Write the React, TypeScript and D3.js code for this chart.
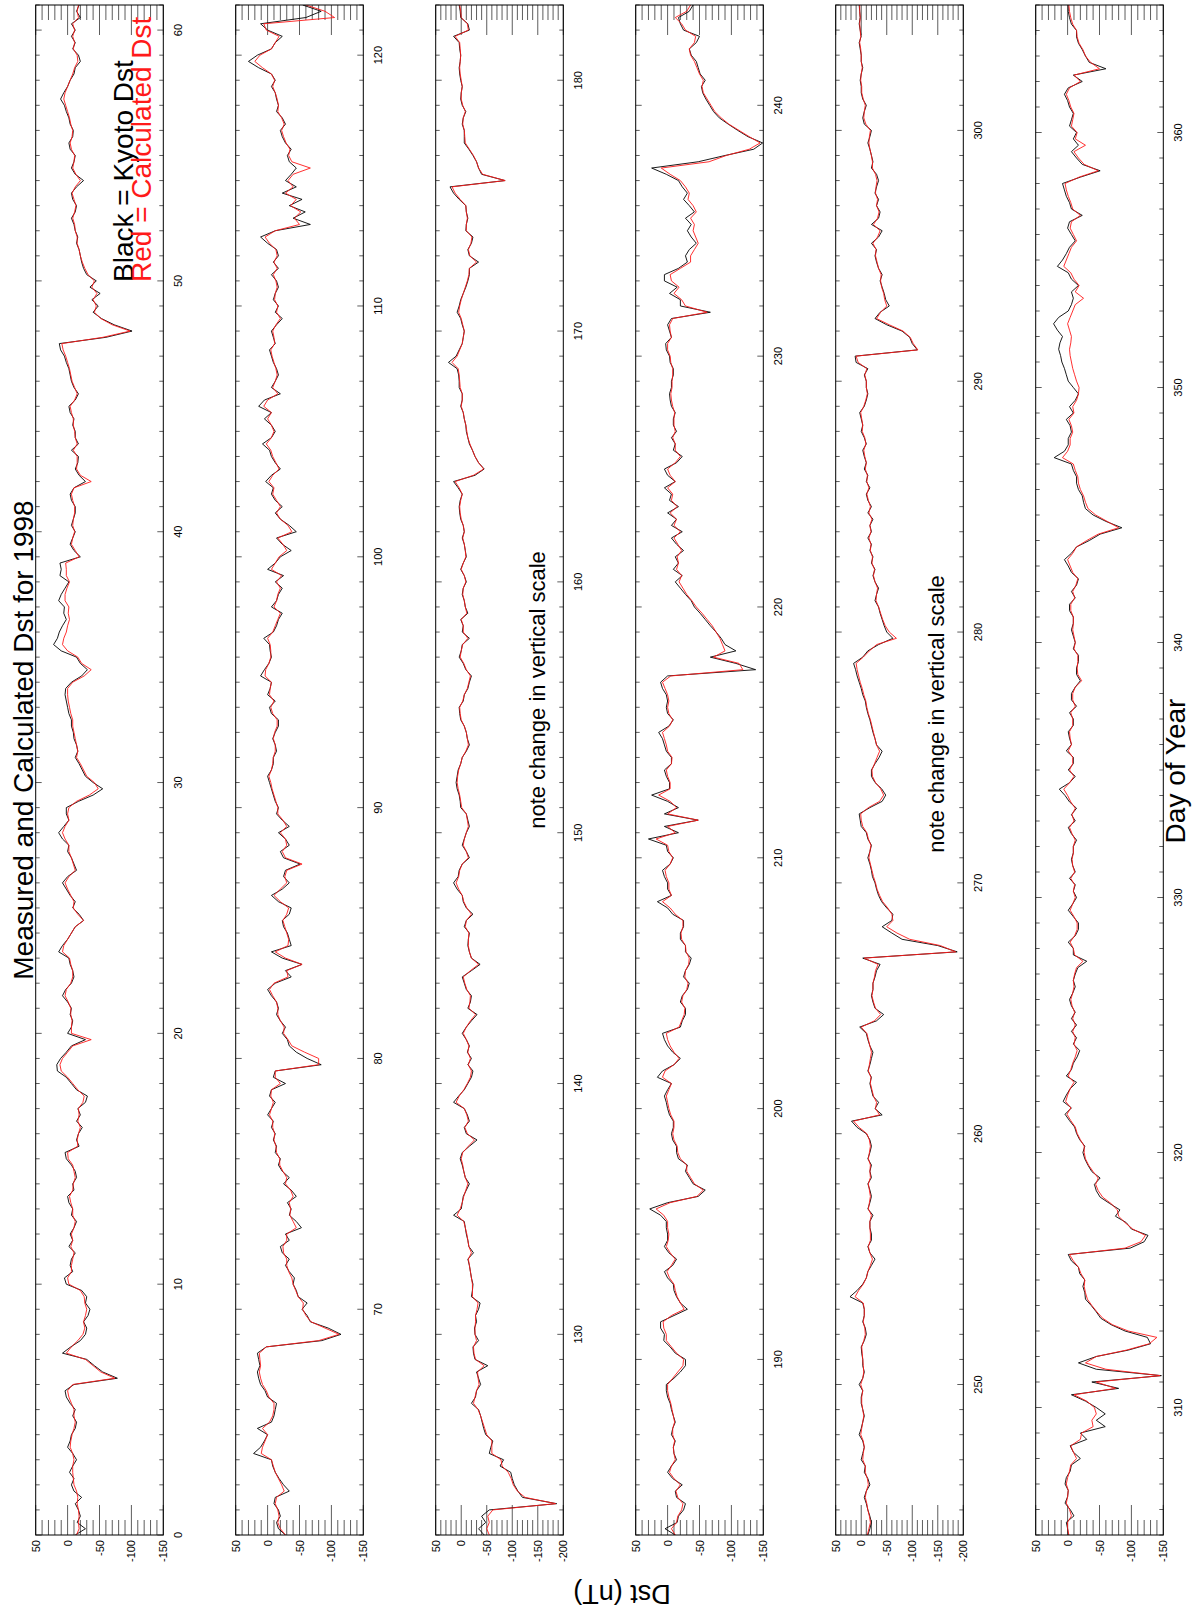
import React from 'react';
import * as d3 from 'd3';

// page is portrait, the figure itself is drawn landscape and turned -90deg
const PAGE_W = 1198;
const PAGE_H = 1617;

const FONT = '"Liberation Sans", Arial, Helvetica, sans-serif';

// hourly Dst every 6 hours (0.25 day)
const STEP = 0.25;

const panelStart = [0, 61, 122, 183, 244, 305];
const panelEnd = [61, 122, 183, 244, 305, 365];
const panelLow = [-150, -150, -200, -150, -200, -150];

const labels150 = [50, 0, -50, -100, -150];
const labels200 = [50, 0, -50, -100, -150, -200];

const kyoto1 = [
  -12,-28,-15,-20, -17,-12,-22,-10, -6,-10,-3,-8, -14,-8,0,-4, -6,-12,-14,-8,
  -12,-4,2,4, -10,-78,-55,-42, -30,8,-5,-20, -28,-30,-25,-32, -35,-28,-30,-22,
  2,5,-8,-4, -6,-12,-2,-8, -4,-10,-14,-6, -8,-2,0,-10, -8,-14,-12,-6,
  2,4,-18,-14, -17,-23,-14,-20, -16,-28,-31,-14, -6,2,16,17, 11,2,-6,-28,
  0,-6,-8,-4, -6,0,8,3, -6,-10,-8,-4, -2,14,8,0, -6,-12,-25,-18,
  -8,-12,-4,2, 8,0,-14,-10, -6,0,-2,8, 14,6,-2,2, 2,-17,-40,-55,
  -40,-28,-23,-18, -12,-16,-14,-10, -9,-6,-6,-2, 0,2,4,3, -6,-22,-31,-20,
  -14,10,22,16, 13,8,2,6, 5,14,10,4, -2,12,10,12, -20,-10,-4,-8,
  -12,-6,-9,-12, -12,-6,-4,-10, -28,-18,-12,-16, -17,-6,-17,-12, -12,-8,-10,-4,
  -2,-12,-17,-10, -6,-4,-2,2, 5,11,13,-60, -101,-73,-53,-40, -48,-38,-51,-35,
  -45,-30,-25,-22, -20,-18,-14,-16, -12,-10,-6,-12, -14,-8,-6,-14, -25,-12,-6,-10,
  -12,-4,-2,-8, -9,-4,-2,2, 5,11,6,0, -4,-10,-12,-20, -17,-8,-12,-6,
  -12,-6,-20,-14, -18,
];
const calc1 = [
  -14,-18,-17,-18, -17,-15,-16,-14, -10,-9,-8,-8, -10,-8,-4,-5, -7,-10,-12,-10,
  -10,-6,-2,0, -8,-74,-52,-40, -28,2,-6,-16, -24,-27,-25,-28, -30,-27,-26,-20,
  -2,0,-6,-6, -8,-10,-5,-8, -6,-10,-12,-8, -8,-5,-3,-8, -9,-12,-10,-8,
  -1,0,-16,-15, -17,-20,-16,-18, -17,-24,-26,-16, -8,0,10,12, 8,0,-8,-37,
  -6,-6,-7,-5, -5,-1,4,2, -5,-8,-8,-5, -3,8,6,0, -6,-12,-25,-16,
  -9,-10,-5,0, 4,-2,-12,-9, -6,-2,-2,4, 8,4,-2,0, -2,-14,-34,-48,
  -42,-30,-25,-20, -14,-16,-14,-12, -10,-8,-8,-5, -3,-1,0,0, -8,-26,-37,-22,
  -16,0,8,6, 2,0,-3,-1, -2,4,4,1, -3,2,2,3, -18,-12,-6,-8,
  -11,-8,-9,-11, -11,-8,-6,-10, -37,-20,-14,-15, -15,-9,-15,-12, -11,-9,-9,-6,
  -4,-11,-15,-11, -7,-5,-3,0, 3,7,9,-55, -98,-70,-52,-42, -45,-40,-46,-38,
  -42,-32,-27,-23, -20,-18,-15,-15, -12,-11,-8,-11, -13,-10,-7,-12, -20,-13,-8,-10,
  -11,-6,-4,-7, -8,-5,-3,0, 3,6,4,0, -4,-8,-11,-16, -15,-9,-11,-8,
  -11,-8,-17,-15, -17,
];

const kyoto2 = [
  -28,-17,-14,-20, -17,-10,-12,-34, -25,-18,-12,-8, -6,22,11,5, 0,16,-6,-10,
  -12,-14,0,4, 11,14,16,12, 14,16,2,-85, -115,-95,-67,-62, -54,-62,-48,-45,
  -40,-42,-34,-28, -34,-23,-20,-34, -28,-53,-45,-34, -37,-31,-45,-37, -25,-34,-23,-17,
  -20,-12,-14,-9, -12,-6,-9,0, -6,-12,-3,-6, -28,-9,-12,-84, -62,-45,-34,-31,
  -23,-28,-20,-14, -17,-14,-6,0, -12,-37,-28,-54, -23,-6,-37,-34, -31,-25,-23,-34,
  -37,-17,-6,-23, -34,-25,-28,-51, -25,-20,-34,-28, -17,-34,-23,-14, -17,-12,-9,-6,
  -3,0,-6,-9, -9,-14,-12,-8, -12,-17,-17,-6, -3,-12,0,-4, -6,11,5,-2,
  -6,-4,-3,6, -9,-14,-17,-23, -6,-14,-17,-23, -12,-25,0,-12, -20,-37,-23,-14,
  -45,-34,-20,-12, -23,-12,-6,-9, 3,-6,-20,-12, -6,-3,8,-6, -12,-6,5,-6,
  14,5,-20,-6, -12,-17,-14,-9, -6,-3,-12,-9, -6,-14,-23,-12, -17,-9,-12,-17,
  -14,-6,-17,-9, -17,-14,0,11, -12,-67,-40,-59, -34,-54,-23,-45, -28,-37,-45,-34,
  -31,-37,-28,-23, -20,-28,-23,-14, -17,-14,-12,-6, -12,-6,14,30, 16,-6,-12,-23,
  0,11,-60,-84, -55,
];
const calc2 = [
  -28,-20,-16,-18, -16,-12,-14,-26, -22,-17,-12,-9, -6,10,8,4, 0,8,-3,-8,
  -10,-10,-2,2, 8,11,13,11, 12,13,2,-80, -112,-90,-68,-60, -55,-56,-48,-44,
  -40,-38,-33,-30, -30,-25,-24,-30, -30,-45,-40,-35, -36,-34,-40,-36, -28,-30,-24,-19,
  -19,-14,-13,-10, -11,-8,-8,-3, -6,-9,-5,-6, -20,-12,-12,-80, -80,-58,-38,-32,
  -25,-26,-20,-16, -16,-14,-8,-3, -10,-32,-30,-54, -28,-12,-32,-33, -30,-27,-24,-30,
  -33,-20,-10,-20, -30,-27,-30,-54, -28,-23,-30,-28, -20,-30,-24,-16, -16,-13,-10,-7,
  -5,-2,-6,-8, -9,-12,-12,-9, -11,-15,-15,-8, -5,-10,-3,-4, -6,4,3,-2,
  -5,-5,-4,0, -8,-12,-16,-20, -10,-14,-16,-20, -14,-22,-6,-12, -18,-30,-24,-16,
  -38,-32,-20,-14, -20,-14,-8,-10, -2,-8,-18,-13, -8,-5,2,-6, -10,-6,0,-6,
  6,0,-16,-8, -12,-15,-13,-10, -7,-5,-11,-10, -8,-13,-20,-14, -16,-11,-12,-15,
  -13,-9,-15,-10, -15,-13,-3,4, -12,-50,-42,-52, -36,-45,-28,-40, -32,-40,-67,-38,
  -33,-35,-29,-25, -22,-26,-22,-16, -17,-15,-12,-8, -11,-6,8,20, 12,-6,-12,-18,
  2,6,-105,-90, -60,
];

const kyoto3 = [
  -45,-34,-48,-40, -55,-187,-120,-111, -104,-100,-97,-76, -83,-55,-58,-62, -48,-44,-41,-38,
  -34,-20,-28,-30, -38,-34,-30,-52, -27,-24,-23,-34, -27,-26,-30,-28, -34,-37,-20,-22,
  -23,-20,-18,-16, -13,-24,-15,-13, -10,-8,-6,15, 0,-2,-4,-10, -16,-8,-5,-2,
  2,-2,-16,-31, -10,-6,-16,-12, -6,15,5,-6, -13,-20,-23,-13, -20,-12,-16,-10,
  -2,-10,-20,-31, -13,-18,-20,-10, -6,-2,-20,-37, -20,-16,-13,-14, -16,-6,-10,-23,
  -10,-4,-2,8, 15,6,4,-2, -16,-10,-2,-6, -10,-16,-13,-10, 1,2,4,8,
  10,8,6,1, -2,-10,-16,-12, -10,-6,1,3, 4,-4,-6,-13, -16,-20,-9,-4,
  4,0,-2,-16, -2,-4,1,-13, -8,-6,-2,-4, -10,-6,1,-4, -10,-8,-6,-2,
  -6,-4,1,3, 4,2,-2,6, 15,-27,-45,-34, -27,-22,-16,-13, -10,-9,-6,-4,
  1,-2,-2,4, 4,5,8,25, 10,4,-2,-4, -6,-2,1,8, 4,1,-4,-9,
  -13,-16,-16,-34, -16,-13,-20,-23, -9,-10,-13,-10, -9,4,15,22, -86,-40,-34,-30,
  -23,-15,-6,-6, -6,-2,-4,-9, -2,1,0,-2, 1,3,4,2, 1,3,4,15,
  -16,-13,1,2, 4,
];
const calc3 = [
  -55,-50,-55,-52, -62,-185,-125,-110, -102,-98,-92,-80, -78,-60,-60,-60, -50,-46,-42,-38,
  -33,-24,-27,-30, -35,-33,-32,-45, -28,-25,-24,-30, -27,-27,-28,-28, -31,-33,-22,-22,
  -22,-20,-18,-16, -14,-20,-15,-13, -11,-8,-5,8, 2,-2,-5,-9, -13,-8,-5,-3,
  0,-3,-14,-26, -12,-7,-14,-11, -6,10,4,-5, -12,-18,-20,-14, -18,-13,-15,-10,
  -4,-10,-18,-28, -15,-17,-18,-11, -7,-4,-18,-34, -20,-16,-14,-14, -15,-8,-10,-20,
  -11,-5,-2,5, 10,5,3,-2, -14,-10,-4,-6, -10,-14,-12,-10, -1,1,3,6,
  8,7,5,1, -2,-9,-14,-12, -10,-6,0,2, 3,-3,-6,-12, -15,-18,-10,-5,
  2,0,-3,-13, -4,-4,0,-11, -8,-6,-3,-4, -9,-6,0,-4, -9,-8,-6,-3,
  -6,-4,0,2, 3,1,-2,4, 12,-24,-44,-34, -27,-22,-17,-13, -11,-9,-6,-4,
  0,-2,-2,2, 3,4,6,18, 8,3,-2,-4, -6,-3,0,5, 3,0,-4,-8,
  -12,-15,-16,-30, -17,-14,-19,-21, -10,-10,-12,-10, -9,2,12,18, -86,-42,-34,-30,
  -24,-16,-8,-7, -6,-3,-4,-8, -3,0,0,-2, 0,2,3,2, 1,2,3,12,
  -14,-12,0,1, 3,
];

const kyoto4 = [
  -12,4,-15,-17, -25,-28,-14,-12, -23,-8,0,-6, -14,-10,-9,-12, -6,-8,-12,-9,
  -6,-4,0,2, 2,-10,-20,-28, -28,-12,-4,6, 5,11,11,-10, -31,-20,-14,-10,
  -9,0,5,-8, -14,-2,5,0, 0,2,2,11, 28,0,-48,-59, -40,-34,-28,-31,
  -17,-14,-14,-8, -6,-9,-9,-3, 0,2,5,0, -6,16,8,-10, -20,-8,0,5,
  8,-20,-23,-28, -28,-20,-23,-31, -34,-25,-28,-34, -37,-28,-28,-20, -20,-25,-25,-8,
  0,16,-6,0, 0,5,8,-4, -9,0,2,30, -17,5,-48,5, -17,0,25,-3,
  -3,2,5,-6, -6,2,5,8, 14,-2,-9,0, 2,0,2,8, 11,0,-138,-107,
  -67,-107,-90,-84, -76,-67,-59,-51, -42,-37,-28,-20, -12,-23,-9,-17, -12,-25,-14,-6,
  -23,-6,-14,0, -17,-3,-6,5, -12,0,5,-14, -23,-9,-12,-6, -14,-9,-9,-12,
  -6,-4,-3,-6, -6,-9,-9,-4, -3,2,3,-6, -3,0,-6,-67, -20,-20,-3,-15,
  5,5,-17,-31, -28,-34,-45,-37, -31,-37,-28,-42, -34,-25,-31,-23, -17,2,25,-48,
  -90,-135,-149,-126, -110,-95,-81,-72, -66,-60,-55,-53, -59,-51,-48,-45, -37,-34,-45,-50,
  -25,-20,-17,-34, -40,
];
const calc4 = [
  -12,-6,-14,-16, -22,-24,-16,-13, -20,-10,-3,-6, -12,-10,-9,-11, -8,-8,-11,-9,
  -7,-5,-2,0, 0,-8,-16,-24, -25,-14,-6,2, 2,6,7,-6, -26,-20,-15,-12,
  -10,-3,1,-6, -12,-4,2,-1, -2,0,0,6, 18,-4,-46,-56, -42,-36,-30,-30,
  -20,-16,-15,-10, -8,-10,-10,-5, -2,0,2,-2, -6,8,4,-10, -18,-10,-4,0,
  2,-18,-22,-26, -27,-22,-24,-30, -32,-27,-28,-33, -34,-29,-28,-22, -21,-24,-24,-12,
  -4,8,-6,-2, -2,2,4,-4, -8,-2,0,18, -12,0,-48,0, -14,-4,14,-4,
  -4,0,2,-6, -7,0,2,5, 8,-3,-8,-2, 0,-2,0,4, 8,-5,-118,-112,
  -72,-90,-86,-82, -76,-70,-62,-54, -45,-38,-30,-24, -18,-22,-14,-17, -15,-22,-16,-10,
  -20,-10,-14,-4, -15,-6,-8,0, -12,-4,0,-12, -20,-12,-12,-8, -12,-10,-10,-11,
  -8,-6,-5,-7, -7,-8,-8,-5, -4,0,0,-6, -4,-3,-8,-62, -28,-22,-10,-18,
  -6,-4,-20,-36, -36,-42,-48,-44, -40,-42,-36,-45, -40,-32,-34,-28, -20,-4,10,-65,
  -92,-128,-145,-128, -112,-96,-84,-74, -68,-62,-56,-54, -56,-50,-46,-42, -36,-34,-42,-44,
  -28,-22,-12,-30, -36,
];

const kyoto5 = [
  -13,-17,-20,-17, -13,-10,-6,-10, -17,-13,-6,-8, 0,-3,-6,-3, 4,0,-3,-6,
  -3,0,0,-3, 4,-3,-6,-3, -3,-1,0,-6, -10,-8,-3,-6, -6,-3,22,8,
  -3,-10,-13,-20, -27,-17,-13,-20, -20,-17,-17,-23, -13,-17,-20,-17, -13,-20,-17,-20,
  -13,-17,-20,-17, -10,8,19,-41, -27,-34,-23,-20, -17,-20,-13,-17, -20,-23,-17,-13,
  -10,3,-30,-44, -27,-23,-20,-23, -23,-27,-30,-37, -3,-188,-150,-80, -60,-41,-60,-62,
  -50,-40,-34,-30, -27,-22,-20,-17, -13,-17,-20,-13, -10,0,2,4, -17,-41,-48,-40,
  -27,-20,-20,-27, -35,-41,-30,-27, -23,-20,-17,-13, -10,-8,-3,0, 4,8,11,15,
  -3,-13,-34,-62, -50,-45,-41,-37, -34,-27,-30,-34, -27,-23,-27,-20, -23,-17,-20,-13,
  -20,-17,-23,-13, -20,-13,-10,-17, -10,-13,-6,-10, -6,-3,-10,-6, 0,-3,0,3,
  -6,-10,-13,-10, -10,-6,-13,10, 12,-110,-100,-95, -80,-50,-27,-37, -55,-48,-45,-41,
  -37,-41,-34,-30, -27,-30,-20,-34, -41,-20,-34,-37, -30,-34,-27,-30, -34,-30,-20,-23,
  -20,-17,-13,-17, -20,-6,-3,-6, -10,-3,0,0, 2,0,-3,0, 0,2,4,0,
  2,4,2,3, 4,
];
const calc5 = [
  -12,-15,-18,-16, -13,-11,-8,-10, -14,-12,-8,-8, -3,-4,-6,-4, 1,-1,-3,-5,
  -3,-1,-1,-3, 1,-3,-5,-4, -3,-2,-1,-5, -8,-7,-4,-6, -6,-4,12,5,
  -4,-10,-13,-18, -22,-17,-14,-18, -18,-17,-17,-20, -14,-16,-18,-16, -14,-18,-17,-18,
  -14,-16,-18,-16, -11,4,15,-36, -28,-30,-24,-21, -18,-19,-14,-16, -18,-20,-17,-14,
  -11,0,-26,-38, -28,-24,-21,-23, -23,-26,-28,-33, -6,-185,-155,-95, -70,-50,-62,-60,
  -52,-42,-36,-31, -28,-24,-21,-18, -15,-17,-19,-14, -11,-3,0,1, -14,-36,-44,-38,
  -28,-22,-21,-26, -31,-36,-30,-27, -24,-21,-18,-14, -11,-9,-5,-2, 2,5,8,10,
  -4,-16,-30,-69, -55,-47,-42,-38, -34,-29,-30,-32, -27,-24,-26,-21, -22,-18,-19,-15,
  -19,-17,-21,-15, -18,-14,-11,-15, -11,-12,-8,-10, -7,-5,-9,-7, -2,-3,-1,1,
  -5,-9,-12,-10, -10,-7,-11,6, 10,-111,-102,-96, -82,-55,-30,-38, -50,-46,-44,-40,
  -38,-39,-34,-31, -28,-29,-23,-32, -37,-24,-32,-35, -30,-32,-28,-29, -31,-28,-22,-22,
  -20,-17,-15,-16, -18,-9,-5,-6, -8,-4,-1,-1, 1,0,-2,0, 0,1,3,1,
  2,3,2,3, 3,
];

const kyoto6 = [
  -1,0,2,-10, -4,4,0,-1, 4,2,-4,-6, -20,-9,-4,-30, -20,-59,-45,-59,
  -45,-28,-6,-80, -38,-147,-45,-17, -45,-95,-130,-125, -90,-68,-52,-45, -37,-28,-27,-24,
  -27,-19,-17,-6, -1,-98,-120,-126, -100,-92,-75,-82, -66,-51,-45,-42, -51,-38,-32,-27,
  -24,-27,-19,-14, -11,-3,4,-6, 7,2,-4,-14, 2,-6,-9,-15, -19,-9,-14,-6,
  -14,-6,-12,-6, -3,-8,-12,-9, -12,-16,-30,-9, -9,-1,-12,-17, -17,-9,-1,-8,
  -14,-9,-12,-3, -12,-8,-6,-9, -9,-14,-6,-1, -12,-6,-14,-3, 4,13,-3,-12,
  -1,-9,-9,2, -6,-3,-1,-9, -9,-3,-14,-6, -6,-12,-20,-14, -14,-17,-17,-9,
  -12,-9,-6,-9, -9,-3,-3,-12, -6,-14,-17,-6, -1,5,-6,-14, -34,-51,-85,-60,
  -40,-28,-25,-23, -17,-14,-14,-9, -6,21,5,-1, -1,-6,-4,2, -9,-3,-12,-17,
  -9,-1,2,5, 9,11,14,12, 8,16,22,14, -1,-6,-9,-6, -17,-6,-1,16,
  8,2,-3,-12, -6,0,-3,-23, -6,-3,2,5, 8,-20,-51,-23, -14,-6,-17,-9,
  -14,-3,-6,-9, -3,0,5,-1, -23,-9,-60,-34, -28,-23,-17,-14, -14,-6,-3,-1,
  -1,
];
const calc6 = [
  -2,0,0,-6, -3,2,0,-1, 2,0,-3,-5, -14,-9,-5,-20, -22,-40,-38,-45,
  -42,-30,-10,-75, -45,-145,-60,-28, -45,-92,-128,-140, -95,-70,-55,-46, -38,-31,-28,-26,
  -27,-21,-17,-9, -3,-90,-115,-122, -102,-90,-80,-78, -68,-55,-48,-44, -48,-40,-33,-28,
  -26,-26,-20,-15, -12,-5,1,-5, 3,0,-4,-10, -1,-5,-8,-12, -15,-10,-12,-8,
  -12,-8,-11,-7, -5,-8,-10,-9, -11,-14,-24,-11, -9,-4,-11,-15, -15,-10,-4,-8,
  -12,-9,-11,-5, -11,-8,-7,-9, -9,-12,-7,-3, -10,-7,-12,-5, 0,6,-3,-10,
  -3,-8,-8,-1, -6,-4,-3,-8, -8,-5,-12,-8, -8,-12,-22,-16, -15,-16,-16,-10,
  -12,-10,-8,-9, -9,-5,-5,-11, -8,-13,-16,-8, -4,0,-8,-14, -30,-48,-80,-62,
  -44,-32,-28,-25, -20,-17,-16,-12, -9,8,0,-4, -4,-8,-6,-2, -10,-8,-14,-17,
  -18,-14,-11,-8, -6,-4,-3,-5, -6,-3,0,-4, -8,-12,-25,-12, -18,-10,-5,6,
  2,-2,-6,-14, -9,-4,-6,-20, -8,-5,-1,2, 4,-18,-48,-26, -17,-10,-28,-12,
  -15,-6,-8,-10, -5,-2,2,-3, -20,-10,-50,-36, -28,-24,-18,-15, -14,-8,-5,-3,
  -2,
];

const kyotoSeries = [kyoto1, kyoto2, kyoto3, kyoto4, kyoto5, kyoto6];
const calcSeries = [calc1, calc2, calc3, calc4, calc5, calc6];

// landscape frame geometry
const X0 = 82;
const X1 = 1612;
const TOP0 = 35.7;
const PANEL_H = 127.6;
const PITCH = 200;

function Panel({ i }: { i: number }) {
  const start = panelStart[i];
  const end = panelEnd[i];
  const low = panelLow[i];
  const top = TOP0 + PITCH * i;
  const bottom = top + PANEL_H;

  const x = d3.scaleLinear().domain([start, end]).range([X0, X1]);
  const y = d3.scaleLinear().domain([50, low]).range([top, bottom]);

  const line = d3
    .line<number>()
    .x((_, k) => x(start + k * STEP))
    .y((v) => y(v));

  const valueTicks = d3.range(50, low - 1, -10);
  const valueLabels = low === -200 ? labels200 : labels150;
  const days = d3.range(Math.ceil(start), Math.floor(end) + 1);
  const dayLabels = days.filter((d) => d % 10 === 0);
  const clipId = `clip-${i}`;

  return (
    <g>
      <defs>
        <clipPath id={clipId}>
          <rect x={X0} y={top} width={X1 - X0} height={PANEL_H} />
        </clipPath>
      </defs>

      {/* value ticks on both day ends */}
      {valueTicks.map((v) => {
        const len = v % 50 === 0 ? 30 : 15;
        return (
          <g key={`v${v}`} stroke="#333" strokeWidth={0.8}>
            <line x1={X0} x2={X0 + len} y1={y(v)} y2={y(v)} />
            <line x1={X1} x2={X1 - len} y1={y(v)} y2={y(v)} />
          </g>
        );
      })}

      {/* day ticks on both value edges */}
      {days.map((d) => {
        const len = d % 10 === 0 ? 6 : 4;
        return (
          <g key={`d${d}`} stroke="#333" strokeWidth={0.8}>
            <line x1={x(d)} x2={x(d)} y1={top} y2={top + len} />
            <line x1={x(d)} x2={x(d)} y1={bottom} y2={bottom - len} />
          </g>
        );
      })}

      <g clipPath={`url(#${clipId})`} fill="none" strokeLinejoin="round">
        <path d={line(kyotoSeries[i]) ?? ''} stroke="#000" strokeWidth={0.9} />
        <path d={line(calcSeries[i]) ?? ''} stroke="#ff1a1a" strokeWidth={0.9} />
      </g>

      <rect
        x={X0}
        y={top}
        width={X1 - X0}
        height={PANEL_H}
        fill="none"
        stroke="#000"
        strokeWidth={1}
      />

      {valueLabels.map((v) => (
        <text
          key={`vl${v}`}
          x={X0 - 5}
          y={y(v)}
          textAnchor="end"
          dominantBaseline="central"
          fontSize={11}
        >
          {v}
        </text>
      ))}

      {dayLabels.map((d) => (
        <text key={`dl${d}`} x={x(d)} y={bottom + 19} textAnchor="middle" fontSize={11}>
          {d}
        </text>
      ))}
    </g>
  );
}

export default function App() {
  return (
    <svg
      width={PAGE_W}
      height={PAGE_H}
      style={{ position: 'absolute', left: 0, top: 0, background: '#fff' }}
      fontFamily={FONT}
    >
      <rect width={PAGE_W} height={PAGE_H} fill="#fff" />
      <g transform={`translate(0,${PAGE_H}) rotate(-90)`}>
        <text x={877} y={33} textAnchor="middle" fontSize={28}>
          Measured and Calculated Dst for 1998
        </text>

        {panelStart.map((_, i) => (
          <Panel key={i} i={i} />
        ))}

        <text x={1335} y={132.5} fontSize={28} fill="#000">
          Black = Kyoto Dst
        </text>
        <text x={1335} y={150.5} fontSize={28} fill="#ff1a1a">
          Red = Calculated Dst
        </text>

        <text x={927} y={545} textAnchor="middle" fontSize={22}>
          note change in vertical scale
        </text>
        <text x={903} y={944} textAnchor="middle" fontSize={22}>
          note change in vertical scale
        </text>

        <text x={846} y={1185} textAnchor="middle" fontSize={28}>
          Day of Year
        </text>

        <text
          x={32}
          y={622}
          textAnchor="middle"
          fontSize={27}
          transform="rotate(-90 32 622)"
        >
          Dst (nT)
        </text>
      </g>
    </svg>
  );
}
